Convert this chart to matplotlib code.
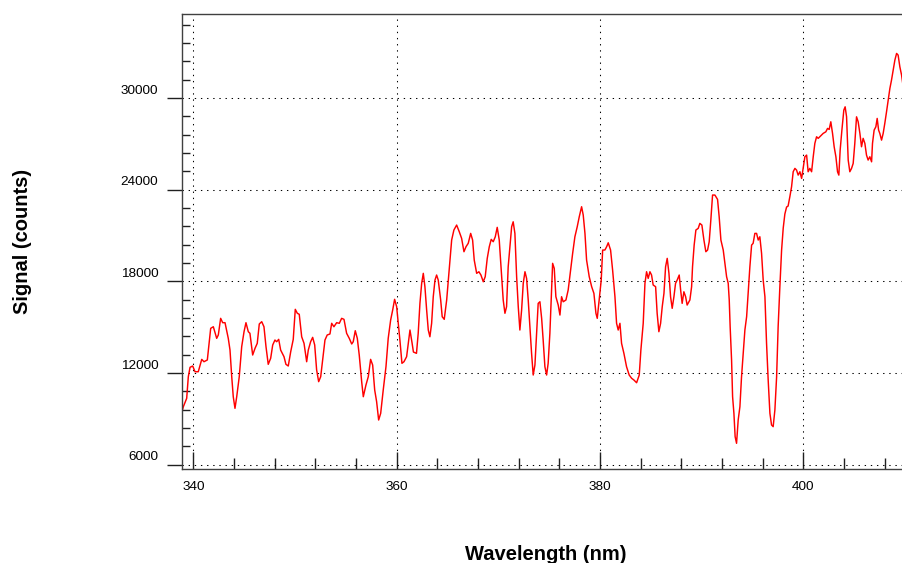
import matplotlib
matplotlib.use("Agg")
import matplotlib.pyplot as plt
from matplotlib.ticker import MultipleLocator
from matplotlib.transforms import ScaledTranslation

# spectrum samples (nm, counts)
wavelength = [
    338.85, 339.02, 339.35, 339.51, 339.68, 339.94, 340.17, 340.49, 340.83, 341.05,
    341.38, 341.71, 341.97, 342.30, 342.46, 342.69, 342.89, 343.12, 343.44, 343.61,
    343.78, 343.93, 344.10, 344.27, 344.52, 344.76, 344.99, 345.18, 345.41, 345.57,
    345.84, 346.07, 346.29, 346.49, 346.73, 346.95, 347.15, 347.37, 347.61, 347.81,
    348.03, 348.20, 348.40, 348.59, 348.92, 349.11, 349.34, 349.58, 349.83, 350.03,
    350.23, 350.42, 350.66, 350.89, 351.15, 351.31, 351.54, 351.74, 351.94, 352.13,
    352.33, 352.53, 352.72, 352.95, 353.17, 353.44, 353.61, 353.83, 354.10, 354.36,
    354.59, 354.82, 355.08, 355.34, 355.58, 355.73, 355.93, 356.13, 356.32, 356.56,
    356.72, 356.98, 357.21, 357.44, 357.64, 357.84, 358.03, 358.23, 358.43, 358.68,
    358.95, 359.17, 359.41, 359.61, 359.80, 360.00, 360.16, 360.32, 360.52, 360.72,
    360.98, 361.14, 361.31, 361.51, 361.65, 361.95, 362.12, 362.29, 362.46, 362.62,
    362.78, 362.95, 363.11, 363.27, 363.44, 363.60, 363.77, 363.93, 364.09, 364.33,
    364.48, 364.68, 364.92, 365.07, 365.24, 365.41, 365.63, 365.90, 366.16, 366.39,
    366.62, 366.82, 367.04, 367.28, 367.47, 367.63, 367.87, 368.09, 368.29, 368.52,
    368.71, 368.91, 369.11, 369.30, 369.50, 369.70, 369.89, 370.09, 370.29, 370.48,
    370.65, 370.81, 370.97, 371.14, 371.31, 371.46, 371.63, 371.80, 371.96, 372.12,
    372.29, 372.45, 372.62, 372.78, 372.94, 373.11, 373.27, 373.43, 373.60, 373.76,
    373.92, 374.09, 374.26, 374.41, 374.58, 374.75, 374.90, 375.07, 375.24, 375.34,
    375.50, 375.66, 375.89, 376.06, 376.22, 376.38, 376.65, 376.87, 377.11, 377.31,
    377.53, 377.76, 377.96, 378.19, 378.35, 378.52, 378.68, 378.94, 379.18, 379.40,
    379.60, 379.73, 379.92, 380.12, 380.26, 380.48, 380.65, 380.81, 381.04, 381.24,
    381.47, 381.63, 381.79, 381.96, 382.12, 382.35, 382.61, 382.87, 383.11, 383.33,
    383.60, 383.86, 384.02, 384.25, 384.42, 384.58, 384.74, 384.91, 385.07, 385.23,
    385.47, 385.62, 385.79, 385.96, 386.12, 386.29, 386.45, 386.61, 386.78, 386.94,
    387.10, 387.27, 387.43, 387.59, 387.79, 387.93, 388.08, 388.25, 388.42, 388.57,
    388.84, 389.01, 389.10, 389.26, 389.43, 389.66, 389.82, 390.02, 390.22, 390.41,
    390.58, 390.74, 390.90, 391.07, 391.30, 391.56, 391.72, 391.89, 392.12, 392.28,
    392.45, 392.61, 392.71, 392.80, 392.94, 393.04, 393.17, 393.29, 393.43, 393.59,
    393.76, 393.92, 394.08, 394.25, 394.42, 394.57, 394.74, 394.91, 395.06, 395.23,
    395.40, 395.56, 395.72, 395.89, 396.05, 396.22, 396.38, 396.54, 396.71, 396.87,
    397.03, 397.20, 397.37, 397.52, 397.69, 397.86, 398.02, 398.18, 398.35, 398.50,
    398.67, 398.84, 399.00, 399.17, 399.33, 399.49, 399.66, 399.83, 399.98, 400.15,
    400.32, 400.47, 400.64, 400.81, 400.97, 401.13, 401.30, 401.46, 401.62, 401.79,
    401.95, 402.21, 402.38, 402.54, 402.70, 402.87, 403.03, 403.20, 403.36, 403.49,
    403.62, 403.79, 403.98, 404.11, 404.25, 404.41, 404.57, 404.74, 404.90, 405.06,
    405.23, 405.39, 405.56, 405.72, 405.88, 406.05, 406.21, 406.37, 406.54, 406.71,
    406.80, 406.96, 407.13, 407.26, 407.40, 407.52, 407.69, 407.85, 408.01, 408.18,
    408.34, 408.51, 408.67, 408.83, 409.00, 409.17, 409.32, 409.49, 409.66, 409.82,
]
signal = [
    9400, 9800, 10350, 11765, 12380, 12465, 12090, 12090, 12900, 12745,
    12860, 14930, 15035, 14275, 14495, 15585, 15300, 15300, 14275, 13510,
    11765, 10455, 9695, 10455, 11765, 13730, 14710, 15300, 14710, 14605,
    13185, 13620, 13950, 15215, 15365, 15035, 13730, 12575, 12970, 13840,
    14165, 14055, 14210, 13510, 13075, 12575, 12465, 13400, 14210, 16175,
    15915, 15850, 14380, 13950, 12745, 13510, 14055, 14340, 13840, 12205,
    11440, 11765, 12860, 14165, 14495, 14560, 15260, 15035, 15300, 15260,
    15585, 15520, 14605, 14275, 13905, 14055, 14775, 14275, 13185, 11440,
    10455, 11220, 11765, 12900, 12530, 10895, 10130, 8930, 9370, 10895,
    12420, 14275, 15475, 16130, 16830, 16345, 15260, 14165, 12640, 12745,
    13075, 13950, 14820, 14000, 13380, 13295, 14605, 16565, 17875, 18530,
    17655, 16130, 14820, 14380, 15260, 17000, 18090, 18420, 18090, 16785,
    15690, 15520, 16785, 17980, 19400, 20710, 21365, 21690, 21250, 20820,
    19945, 20270, 20495, 21145, 20710, 19400, 18530, 18635, 18420, 17980,
    18310, 19510, 20270, 20755, 20600, 20925, 21540, 20710, 18745, 16785,
    15915, 16345, 18960, 20270, 21580, 21905, 21145, 18310, 16345, 14820,
    16130, 17875, 18635, 18200, 16785, 15035, 13295, 11875, 12530, 14495,
    16565, 16670, 15585, 14165, 12420, 11875, 12640, 14605, 17440, 19185,
    18855, 17000, 16455, 15800, 17000, 16670, 16785, 17440, 18745, 19840,
    20925, 21580, 22235, 22890, 22345, 21145, 19400, 18310, 17655, 17220,
    15915, 15585, 16785, 18090, 20055, 20055, 20270, 20530, 20055, 18745,
    17000, 15260, 14820, 15260, 13950, 13295, 12420, 11875, 11660, 11550,
    11370, 11875, 13510, 15260, 17875, 18635, 18200, 18635, 18420, 17765,
    17655, 15915, 14710, 15260, 16345, 17220, 18960, 19510, 18530, 17000,
    16240, 17000, 17875, 18090, 18420, 17440, 16565, 17325, 17000, 16455,
    16785, 17655, 18960, 20380, 21365, 21475, 21800, 21690, 20710, 19945,
    20055, 20600, 22020, 23655, 23655, 23370, 22235, 20710, 20055, 19185,
    18310, 17875, 16785, 15035, 12860, 10455, 9370, 7840, 7405, 8930,
    9800, 11765, 13295, 14820, 15690, 17220, 18960, 20380, 20495, 21145,
    21145, 20710, 20925, 19840, 18090, 17000, 13950, 11550, 9370, 8605,
    8495, 9585, 11765, 15035, 17655, 20055, 21495, 22410, 22870, 22935,
    23540, 24195, 25180, 25400, 25290, 24960, 25180, 24745, 25400, 26160,
    26270, 25180, 25400, 25180, 26160, 27035, 27470, 27365, 27470, 27580,
    27690, 27795, 28015, 27950, 28450, 27690, 26815, 26160, 25180, 24960,
    26600, 27905, 29215, 29430, 28775, 25945, 25180, 25400, 25725, 27035,
    28775, 28450, 27690, 26815, 27365, 27035, 26270, 25945, 26160, 25830,
    27035, 27905, 28120, 28670, 27905, 27690, 27250, 27690, 28345, 29105,
    29870, 30635, 31180, 31830, 32485, 32925, 32815, 32050, 31505, 30740,
]

x_ticks = [340, 360, 380, 400]
y_ticks = [6000, 12000, 18000, 24000, 30000]

plt.rcParams['font.family'] = ['Liberation Sans', 'DejaVu Sans']

fig = plt.figure(figsize=(9.03, 5.63), dpi=100)
ax = fig.add_axes([0.201, 0.167, 0.799, 0.808])

ax.plot(wavelength, signal, color='#ff0000', linewidth=1.05)

ax.set_xlim(338.84, 409.8)
ax.set_ylim(5725, 35500)

ax.set_xticks(x_ticks)
ax.set_xticklabels([str(v) for v in x_ticks])
ax.set_yticks(y_ticks)
ax.set_yticklabels([str(v) for v in y_ticks])
ax.xaxis.set_minor_locator(MultipleLocator(4))
ax.yaxis.set_minor_locator(MultipleLocator(1200))

# dotted grid on the major ticks only
ax.set_axisbelow(True)
ax.grid(True, which='major', color='black', linestyle=(0, (1.3, 4.6)), linewidth=0.75)

for side in ('left', 'bottom', 'top'):
    ax.spines[side].set_color('#404040')
    ax.spines[side].set_linewidth(1.0)
ax.spines['right'].set_visible(False)

ax.tick_params(axis='x', which='major', direction='in', length=12, width=1.0,
               pad=8.5, labelsize=9.7, color='#202020')
ax.tick_params(axis='x', which='minor', direction='in', length=8, width=1.0, color='#202020')
ax.tick_params(axis='y', which='major', direction='out', length=10.5, width=1.0,
               pad=6.2, labelsize=9.7, color='#202020')
ax.tick_params(axis='y', which='minor', direction='in', left=True, length=5.8,
               width=1.0, color='#202020')

# y labels sit a little above their ticks
shift = ScaledTranslation(0, 6.5 / 72, fig.dpi_scale_trans)
for lbl in ax.get_yticklabels():
    lbl.set_transform(lbl.get_transform() + shift)

ax.set_xlabel('Wavelength (nm)', fontsize=14.5, fontweight='bold', va='center')
ax.xaxis.set_label_coords(0.505, -0.187)
ax.set_ylabel('Signal (counts)', fontsize=14.5, fontweight='bold', va='center')
ax.yaxis.set_label_coords(-0.221, 0.501)

fig.savefig('out.png', dpi=100)
